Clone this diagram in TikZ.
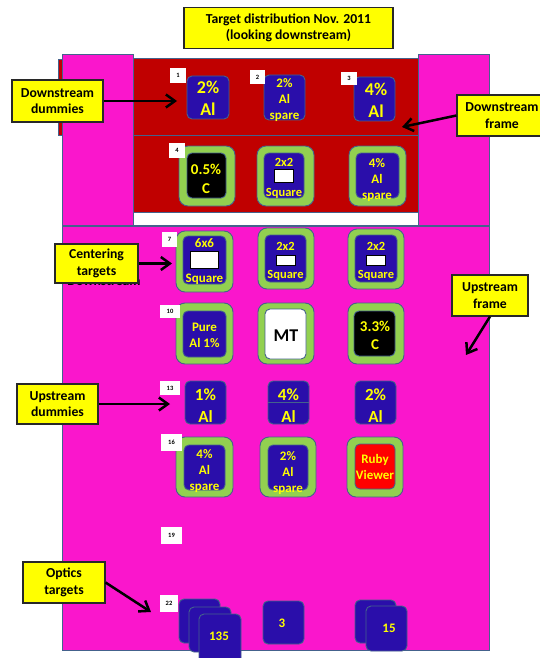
\documentclass[tikz,border=0pt]{standalone}
\usepackage{fontspec}
\setmainfont{Carlito}
\usetikzlibrary{arrows.meta,fit}
\definecolor{pinkc}{RGB}{250,22,204}
\definecolor{dred}{RGB}{192,0,0}
\definecolor{tblue}{RGB}{42,14,170}
\definecolor{tgreen}{RGB}{146,208,80}
\definecolor{bordc}{RGB}{68,98,140}
\definecolor{yel}{RGB}{255,255,0}
\definecolor{lblborder}{RGB}{40,40,40}
\definecolor{rubyred}{RGB}{255,0,0}
\newcommand\mylbl{\fontsize{13.7}{16.5}\selectfont\bfseries}
\newcommand\mybig{\fontsize{18}{21.5}\selectfont\bfseries}
\newcommand\mydum{\fontsize{17}{22}\selectfont\bfseries}
\newcommand\mymid{\fontsize{13}{16}\selectfont\bfseries}
\newcommand\myc{\fontsize{15}{18.5}\selectfont\bfseries}
\newcommand\mysm{\fontsize{12.5}{14}\selectfont\bfseries}
\newcommand\mytag{\fontsize{6.5}{7}\selectfont\bfseries}
\tikzset{
  frame/.style={draw=bordc, line width=0.9pt},
  tgt/.style={draw=bordc, fill=tblue, rounded corners=5pt, line width=0.9pt, inner sep=0pt},
  ring/.style={draw=bordc, fill=tgreen, rounded corners=9pt, line width=0.9pt, inner sep=0pt},
  tag/.style={fill=white, inner sep=0pt, font=\mytag},
  lbl/.style={draw=lblborder, fill=yel, line width=1.1pt, inner sep=0pt, align=center, font=\mylbl},
  yt/.style={text=yel, align=center, inner sep=0pt},
  wsq/.style={draw=black, fill=white, line width=1pt, inner sep=0pt},
  arr/.style={line width=2.5pt, -{Straight Barb[length=9pt,width=13pt]}},
}
\begin{document}
\begin{tikzpicture}[x=1pt,y=-1pt]
\useasboundingbox (0,0) rectangle (539,658);
\fill[white] (0,0) rectangle (539,658);

% ---------- downstream frame ----------
\draw[frame, fill=dred] (58,59) rectangle (100,135);
\draw[frame, fill=dred] (133,58) rectangle (418,212);
\draw[frame] (133,135) -- (418,135);
\draw[frame, fill=white] (133,212) rectangle (418,225);
\draw[frame, fill=pinkc] (62,54) rectangle (133,225);
\draw[frame, fill=pinkc] (418,54) rectangle (489,225);
% ---------- upstream frame ----------
\draw[frame, fill=pinkc] (62,226) rectangle (489,650);

% ---------- title ----------
\node[lbl, minimum width=209pt, minimum height=41pt] (title) at (288.5,28) {Target distribution Nov. 2011\\(looking downstream)};

% ---------- downstream row 1 ----------
\node[tgt, fit={(187,76)(229,119)}] (d1) {};
\node[yt, font=\mybig] (d1t) at (208,98.5) {2\%\\Al};
\node[tgt, fit={(264,75)(305,120)}] (d2) {};
\node[yt, font=\mymid] (d2t) at (284.5,100) {2\%\\Al\\spare};
\node[tgt, fit={(354,77)(395,121)}] (d3) {};
\node[yt, font=\mybig] (d3t) at (376,100.5) {4\%\\Al};

% ---------- downstream row 2 ----------
\node[ring, fit={(179,146)(235,206)}] (d4r) {};
\node[tgt, fill=black, fit={(187,153)(226,198)}] (d4) {};
\node[yt, font=\myc] (d4t) at (206,179) {0.5\%\\C};
\node[ring, fit={(257,146)(314,206)}] (d5r) {};
\node[tgt, fit={(264,153)(304,198)}] (d5) {};
\node[yt, font=\mysm] (d5a) at (284,162) {2x2};
\node[wsq, fit={(274,169)(293,182)}] (d5s) {};
\node[yt, font=\mysm] (d5b) at (284,193) {Square};
\node[ring, fit={(349,146)(406,206)}] (d6r) {};
\node[tgt, fit={(356,153)(399,198)}] (d6) {};
\node[yt, font=\mymid] (d6t) at (377,180) {4\%\\Al\\spare};

% ---------- upstream row 1 ----------
\node[ring, fit={(176,231)(233,292)}] (u1r) {};
\node[tgt, fit={(183,236)(226,284)}] (u1) {};
\node[yt, font=\mymid] (u1a) at (204.5,243) {6x6};
\node[wsq, fit={(190,251)(218,268)}] (u1s) {};
\node[yt, font=\mymid] (u1b) at (204.5,279) {Square};
\node[ring, fit={(258,228)(314,289)}] (u2r) {};
\node[tgt, fit={(265,235)(306,282)}] (u2) {};
\node[yt, font=\mysm] (u2a) at (285.5,246) {2x2};
\node[wsq, fit={(276,255)(295,265)}] (u2s) {};
\node[yt, font=\mysm] (u2b) at (285.5,275) {Square};
\node[ring, fit={(348,229)(404,289)}] (u3r) {};
\node[tgt, fit={(355,235)(397,282)}] (u3) {};
\node[yt, font=\mysm] (u3a) at (376,246) {2x2};
\node[wsq, fit={(366,255)(385,265)}] (u3s) {};
\node[yt, font=\mysm] (u3b) at (376,275) {Square};

% ---------- upstream row 2 ----------
\node[ring, fit={(176,303)(233,364)}] (u4r) {};
\node[tgt, fit={(183,311)(226,357)}] (u4) {};
\node[yt, font=\mymid] (u4t) at (204.5,335.5) {Pure\\Al 1\%};
\node[ring, fit={(258,303)(314,364)}] (u5r) {};
\node[tgt, fill=white, fit={(265,309)(306,359)}] (u5) {};
\node[inner sep=0pt, font=\mybig] (u5t) at (286,336) {MT};
\node[ring, fit={(348,303)(404,364)}] (u6r) {};
\node[tgt, fill=black, fit={(354,311)(395,356)}] (u6) {};
\node[yt, font=\myc] (u6t) at (375,335.5) {3.3\%\\C};

% ---------- upstream row 3 (dummies) ----------
\node[tgt, fit={(185,381)(226,424)}] (u7) {};
\node[yt, font=\mydum] (u7t) at (205.5,406) {1\%\\Al};
\node[tgt, fit={(268,381)(309,424)}] (u8) {};
\draw[frame] (268,402) -- (309,402);
\node[yt, font=\mydum] (u8t) at (288.5,406) {4\%\\Al};
\node[tgt, fit={(355,381)(396,424)}] (u9) {};
\node[yt, font=\mydum] (u9t) at (375.5,405.5) {2\%\\Al};

% ---------- upstream row 4 ----------
\node[ring, fit={(176,437)(233,497)}] (u10r) {};
\node[tgt, fit={(184,445)(225,490)}] (u10) {};
\node[yt, font=\mymid] (u10t) at (204.5,471) {4\%\\Al\\spare};
\node[ring, fit={(260,437)(316,497)}] (u11r) {};
\node[tgt, fit={(268,445)(308,490)}] (u11) {};
\node[yt, font=\mymid] (u11t) at (288,473) {2\%\\Al\\spare};
\node[ring, fit={(347,437)(403,497)}] (u12r) {};
\node[tgt, fill=rubyred, fit={(355,444)(395,489)}] (u12) {};
\node[yt, font=\mymid] (u12t) at (375,467) {Ruby\\Viewer};

% ---------- optics targets ----------
\node[tgt, fit={(179,599)(220,643)}] (o1a) {};
\node[tgt, fit={(189,607)(231,652)}] (o1b) {};
\node[tgt, fit={(199,614)(241,672)}] (o1c) {};
\node[yt, font=\mymid] (o1t) at (219,636) {135};
\node[tgt, fit={(263,601)(304,644)}] (o2) {};
\node[yt, font=\mymid] (o2t) at (282,623) {3};
\node[tgt, fit={(355,600)(396,643)}] (o3a) {};
\node[tgt, fit={(366,606)(407,651)}] (o3b) {};
\node[yt, font=\mymid] (o3t) at (389,628) {15};

% ---------- tags ----------
\node[tag, minimum width=16pt, minimum height=15pt] (t1) at (178,75.5) {1};
\node[tag, minimum width=15pt, minimum height=14pt] (t2) at (257.5,77) {2};
\node[tag, minimum width=16pt, minimum height=13pt] (t3) at (349,78.5) {3};
\node[tag, minimum width=16pt, minimum height=15pt] (t4) at (177,150.5) {4};
\node[tag, minimum width=15pt, minimum height=15pt] (t7) at (169.5,239.5) {7};
\node[tag, minimum width=20pt, minimum height=13pt] (t10) at (170,311.5) {10};
\node[tag, minimum width=20pt, minimum height=14pt] (t13) at (170,388) {13};
\node[tag, minimum width=21pt, minimum height=17pt] (t16) at (171.5,442.5) {16};
\node[tag, minimum width=21pt, minimum height=17pt] (t19) at (171.5,535.5) {19};
\node[tag, minimum width=18pt, minimum height=17pt] (t22) at (169,603.5) {22};

% ---------- callout labels ----------
\node[inner sep=0pt, font=\mylbl] (ghost) at (104,281) {Downstream};
\node[lbl, minimum width=91pt, minimum height=42pt] (dd) at (57.5,101) {Downstream\\dummies};
\node[lbl, minimum width=90pt, minimum height=41pt] (df) at (502,115.5) {Downstream\\frame};
\node[lbl, minimum width=83pt, minimum height=39pt] (ct) at (96.5,263.5) {Centering\\targets};
\node[lbl, minimum width=76pt, minimum height=41pt] (uf) at (490,295.5) {Upstream\\frame};
\node[lbl, minimum width=81pt, minimum height=40pt] (ud) at (57.5,404) {Upstream\\dummies};
\node[lbl, minimum width=82pt, minimum height=41pt] (ot) at (64,582.5) {Optics\\targets};

% ---------- arrows ----------
\coordinate (ddE) at (177,101);
\coordinate (dfE) at (402,127);
\coordinate (ctE) at (172,263.5);
\coordinate (ufE) at (466,355);
\coordinate (udE) at (170,404);
\coordinate (otE) at (151,612);
\draw[arr] (dd.east) -- (ddE);
\draw[arr] (df.west) -- (dfE);
\draw[arr] (ct.east) -- (ctE);
\draw[arr] (uf.south) -- (ufE);
\draw[arr] (ud.east) -- (udE);
\draw[arr] (ot.east) -- (otE);
\end{tikzpicture}
\end{document}
